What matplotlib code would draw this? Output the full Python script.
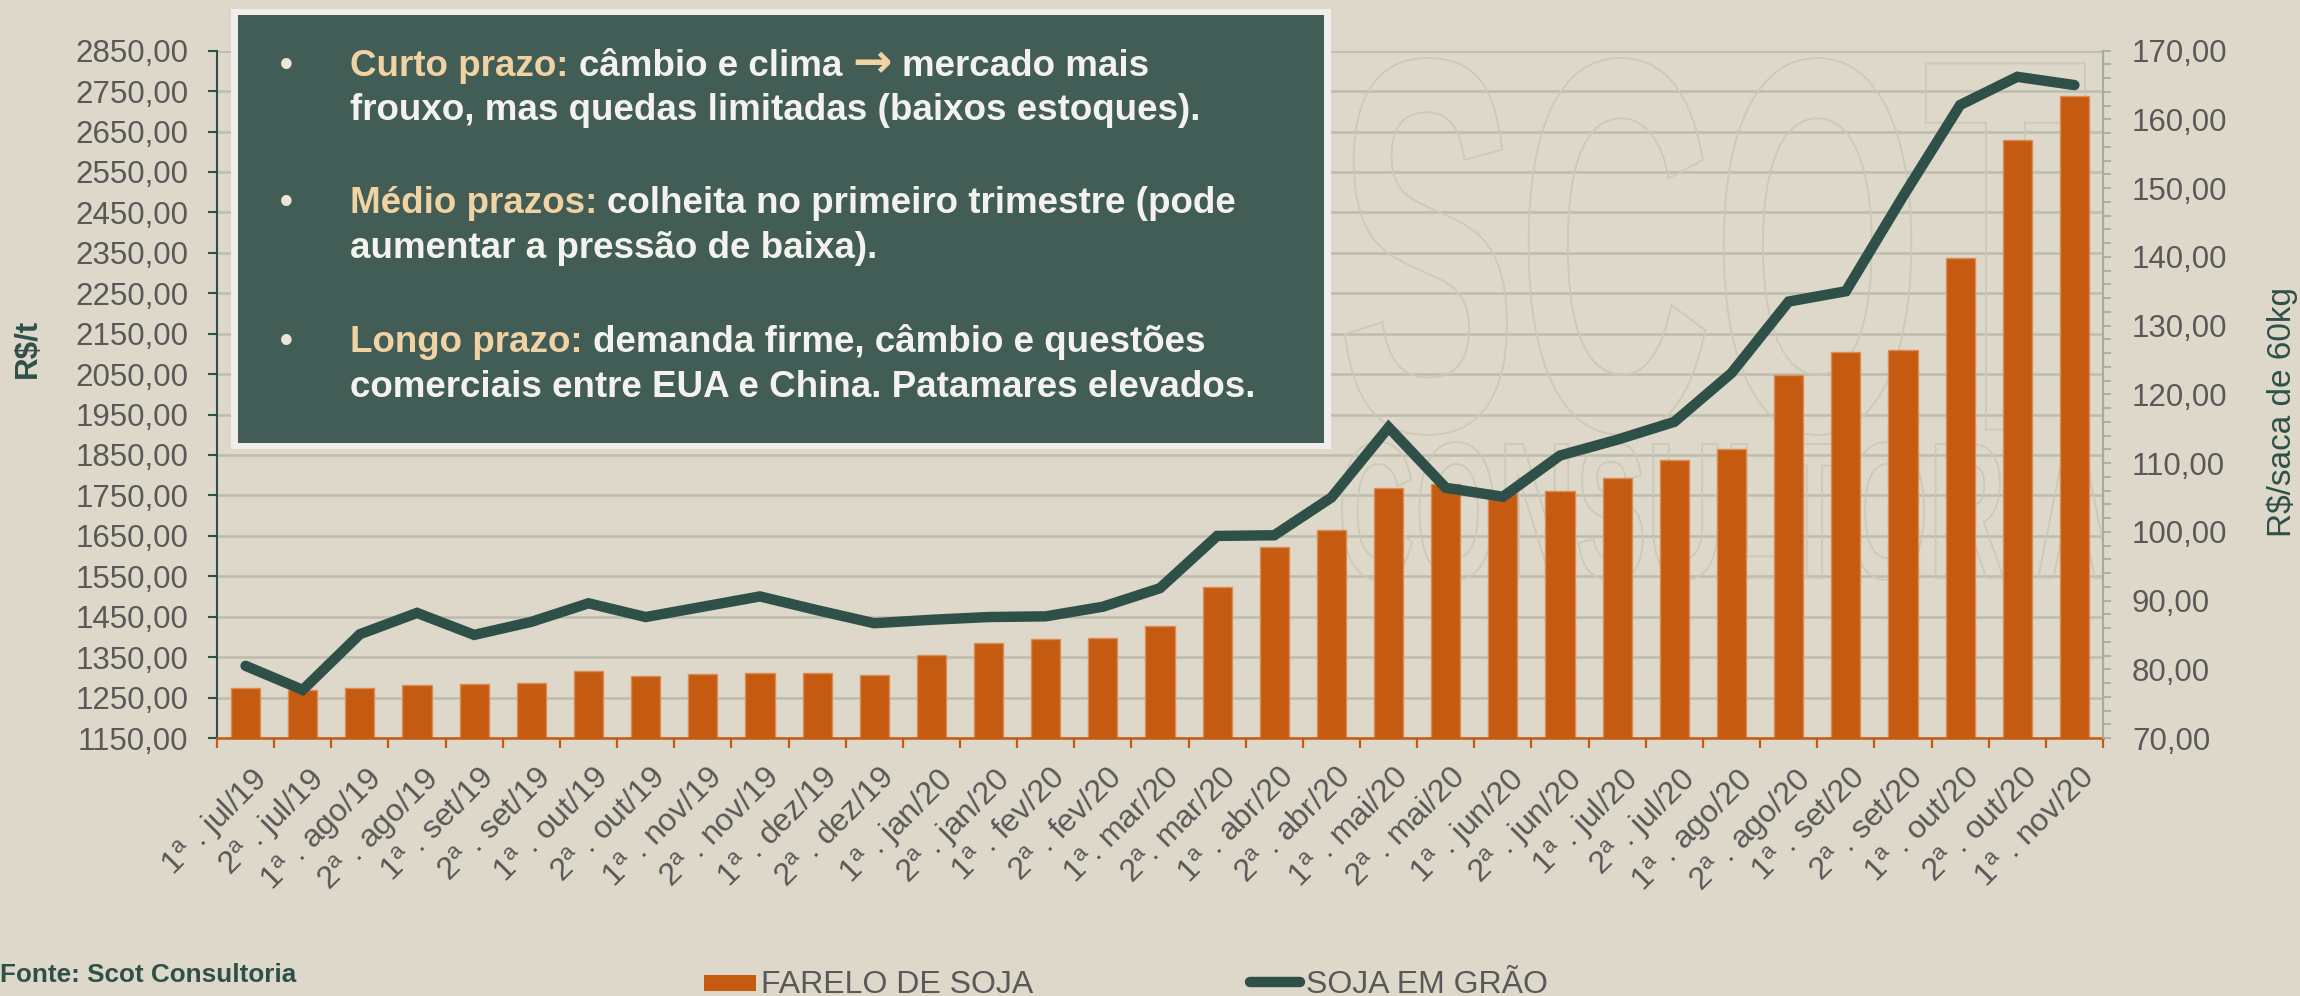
import numpy as np
import matplotlib
matplotlib.use("Agg")
import matplotlib.pyplot as plt
from matplotlib.ticker import MultipleLocator, FuncFormatter
from matplotlib.patches import Rectangle, PathPatch
from matplotlib.lines import Line2D
from matplotlib.textpath import TextPath
from matplotlib.font_manager import FontProperties
from matplotlib.transforms import Affine2D, ScaledTranslation

# ---------------- data ----------------
categorias = [
    "1ª . jul/19", "2ª . jul/19", "1ª . ago/19", "2ª . ago/19", "1ª . set/19", "2ª . set/19",
    "1ª . out/19", "2ª . out/19", "1ª . nov/19", "2ª . nov/19", "1ª . dez/19", "2ª . dez/19",
    "1ª . jan/20", "2ª . jan/20", "1ª . fev/20", "2ª . fev/20", "1ª. mar/20", "2ª. mar/20",
    "1ª . abr/20", "2ª . abr/20", "1ª . mai/20", "2ª . mai/20", "1ª . jun/20", "2ª . jun/20",
    "1ª . jul/20", "2ª . jul/20", "1ª . ago/20", "2ª . ago/20", "1ª . set/20", "2ª . set/20",
    "1ª . out/20", "2ª . out/20", "1ª . nov/20",
]
farelo_de_soja = [1274, 1269, 1273, 1280, 1284, 1285, 1315, 1303, 1308, 1311, 1312, 1305,
                  1356, 1384, 1395, 1398, 1428, 1524, 1622, 1665, 1769, 1779, 1755, 1760,
                  1792, 1837, 1866, 2047, 2104, 2110, 2337, 2630, 2738]
soja_em_grao = [80.5, 77.0, 85.1, 88.2, 85.0, 86.9, 89.6, 87.6, 89.1, 90.6, 88.6, 86.7,
                87.2, 87.6, 87.7, 89.1, 91.8, 99.4, 99.5, 105.0, 115.2, 106.4, 105.1, 111.1,
                113.4, 116.0, 123.1, 133.5, 135.0, 148.8, 162.1, 166.2, 165.0]
ticks_esq = list(range(1150, 2851, 100))
ticks_dir = list(range(70, 171, 10))
serie_nomes = ["FARELO DE SOJA", "SOJA EM GRÃO"]
fonte = "Fonte: Scot Consultoria"
rotulo_esq = "R$/t"
rotulo_dir = "R$/saca de 60kg"
texto_caixa = [
    [("Curto prazo:", "h"), (" câmbio e clima ", "w"), ("→", "a"), (" mercado mais", "w")],
    [("frouxo, mas quedas limitadas (baixos estoques).", "w")],
    [("Médio prazos:", "h"), (" colheita no primeiro trimestre (pode", "w")],
    [("aumentar a pressão de baixa).", "w")],
    [("Longo prazo:", "h"), (" demanda firme, câmbio e questões", "w")],
    [("comerciais entre EUA e China. Patamares elevados.", "w")],
]

# ---------------- style ----------------
BG = "#DDD8C9"
ORANGE = "#C55A11"
GREEN = "#2F5049"
BOXC = "#425D55"
TAN = "#F1D2A3"
WHITE = "#F3F2EF"
GRAY = "#595959"
GRID = "#BCBDAC"
RGRAY = "#A5AB9E"
FAM = ["Liberation Sans", "DejaVu Sans"]

plt.rcParams["font.family"] = FAM
plt.rcParams["mathtext.fontset"] = "custom"
plt.rcParams["mathtext.rm"] = "Liberation Sans"
plt.rcParams["mathtext.it"] = "Liberation Sans:italic"
plt.rcParams["mathtext.bf"] = "Liberation Sans:bold"

W, H = 2300, 996
fig = plt.figure(figsize=(W / 100, H / 100), dpi=100, facecolor=BG)
x0p, x1p, y0p, y1p = 217, 2103, 50.7, 738
ax = fig.add_axes([x0p / W, 1 - y1p / H, (x1p - x0p) / W, (y1p - y0p) / H])
ax.set_facecolor(BG)
ax2 = ax.twinx()

x = np.arange(len(categorias))

# watermark (outlined text)
def outline_text(s, xa, xb, ya, yb):
    fp = FontProperties(family="Liberation Sans", weight="bold")
    tp = TextPath((0, 0), s, size=100, prop=fp)
    ext = tp.get_extents()
    sx = (xb - xa) / ext.width / W
    sy = (yb - ya) / ext.height / H
    tr = Affine2D().translate(-ext.x0, -ext.y0).scale(sx, sy).translate(xa / W, 1 - yb / H)
    p = PathPatch(tr.transform_path(tp), facecolor="none", edgecolor="#CCC9B9",
                  lw=1.3, transform=fig.transFigure, zorder=0.6)
    ax.add_artist(p)

outline_text("SCOT", 1345, 2085, 58, 435)
outline_text("CONSULTORIA", 1342, 2110, 442, 580)

# bars
ax.bar(x, farelo_de_soja, width=0.51, color=ORANGE, edgecolor="#DE8A55", linewidth=1.0, zorder=2)
ax.set_xlim(-0.5, len(categorias) - 0.5)
ax.set_ylim(1150, 2850)
ax.set_yticks(ticks_esq)
fmt = FuncFormatter(lambda v, p: f"{v:.2f}".replace(".", ","))
ax.yaxis.set_major_formatter(fmt)
ax.set_axisbelow(True)
ax.yaxis.grid(True, color=GRID, lw=1.8)
ax.xaxis.grid(False)

# line
ax2.plot(x, soja_em_grao, color=GREEN, lw=7.5, solid_capstyle="round",
         solid_joinstyle="miter", zorder=3)
ax2.set_ylim(70, 170)
ax2.set_yticks(ticks_dir)
ax2.yaxis.set_minor_locator(MultipleLocator(2))
ax2.yaxis.set_major_formatter(fmt)

# spines
for s in ["top", "right"]:
    ax.spines[s].set_visible(False)
ax.spines["left"].set_color(GREEN)
ax.spines["left"].set_linewidth(1.5)
ax.spines["bottom"].set_color(ORANGE)
ax.spines["bottom"].set_linewidth(1.8)
for s in ["top", "left", "bottom"]:
    ax2.spines[s].set_visible(False)
ax2.spines["right"].set_color(RGRAY)
ax2.spines["right"].set_linewidth(1.5)

# ticks
ax.tick_params(axis="y", direction="out", length=6.5, width=1.5, color=GREEN,
               labelsize=22.5, labelcolor=GRAY, pad=14)
ax2.tick_params(axis="y", which="both", direction="out", length=5.8, width=1.2, color=RGRAY,
                labelsize=22.5, labelcolor=GRAY, pad=15)
ax.set_xticks(np.arange(-0.5, len(categorias), 1), minor=True)
ax.tick_params(axis="x", which="minor", direction="out", length=7.5, width=1.6, color=ORANGE)
disp = [c.replace("ª", r"$^{\mathrm{a}}$") for c in categorias]
ax.set_xticks(x)
ax.set_xticklabels(disp, rotation=45, ha="right", va="top", rotation_mode="anchor",
                   fontsize=23, color=GRAY)
ax.tick_params(axis="x", which="major", length=0, pad=18)
off = ScaledTranslation(5 / 100, 0, fig.dpi_scale_trans)
for lab in ax.get_xticklabels():
    lab.set_transform(lab.get_transform() + off)

# axis titles
fig.text(27.5 / W, 1 - 348.5 / H, rotulo_esq, rotation=90, ha="center", va="center",
         fontsize=22.5, fontweight="bold", color=GREEN)
fig.text(2282 / W, 1 - 412 / H, rotulo_dir, rotation=90, ha="center", va="center",
         fontsize=24, color=GREEN)

# source
fig.text(0 / W, 1 - 982 / H, fonte, ha="left", va="baseline", fontsize=18.8,
         fontweight="bold", color=GREEN)

# legend (manual)
fig.add_artist(Rectangle((704 / W, 1 - 991 / H), 52 / W, 16 / H, transform=fig.transFigure,
                         facecolor=ORANGE, edgecolor="none"))
fig.text(761 / W, 1 - 993 / H, serie_nomes[0], ha="left", va="baseline", fontsize=23, color=GRAY)
fig.add_artist(Line2D([1250 / W, 1300 / W], [1 - 982 / H, 1 - 982 / H], transform=fig.transFigure,
                      color=GREEN, lw=7.5, solid_capstyle="round"))
fig.text(1306 / W, 1 - 993 / H, serie_nomes[1], ha="left", va="baseline", fontsize=23, color=GRAY)

# text box
fig.add_artist(Rectangle((231 / W, 1 - 449 / H), 1100 / W, 440 / H, transform=fig.transFigure,
                         facecolor="#F0EEEA", edgecolor="none", zorder=10))
fig.add_artist(Rectangle((238 / W, 1 - 443 / H), 1086 / W, 428 / H, transform=fig.transFigure,
                         facecolor=BOXC, edgecolor="none", zorder=11))

renderer = fig.canvas.get_renderer()
fpb = FontProperties(family=FAM, weight="bold", size=26.5)
fpa = FontProperties(family=["DejaVu Sans"], weight="bold", size=34)

def adv(s, fp=fpb):
    if not s:
        return 0.0
    w1, _, _ = renderer.get_text_width_height_descent("|" + s + "|", fp, ismath=False)
    w0, _, _ = renderer.get_text_width_height_descent("||", fp, ismath=False)
    return w1 - w0

baselines = [76, 120.5, 213, 258, 352, 396.5]
bullet_lines = [0, 2, 4]
for i, (runs, bl) in enumerate(zip(texto_caixa, baselines)):
    if i in bullet_lines:
        fig.text(280 / W, 1 - bl / H, "•", ha="left", va="baseline", fontproperties=fpb,
                 color="#EDE6D8", zorder=12)
    xc = 350.0
    for s, kind in runs:
        if kind == "a":
            fig.text(xc / W, 1 - (bl + 1) / H, s, ha="left", va="baseline",
                     fontproperties=fpa, color=TAN, zorder=12)
            xc += adv(s, fpa)
            continue
        lead = len(s) - len(s.lstrip(" "))
        xs = xc + adv(s[:lead])
        fig.text(xs / W, 1 - bl / H, s.lstrip(" "), ha="left", va="baseline",
                 fontproperties=fpb, color=TAN if kind == "h" else WHITE, zorder=12)
        xc += adv(s)

fig.savefig("out.png", dpi=100, facecolor=BG)
